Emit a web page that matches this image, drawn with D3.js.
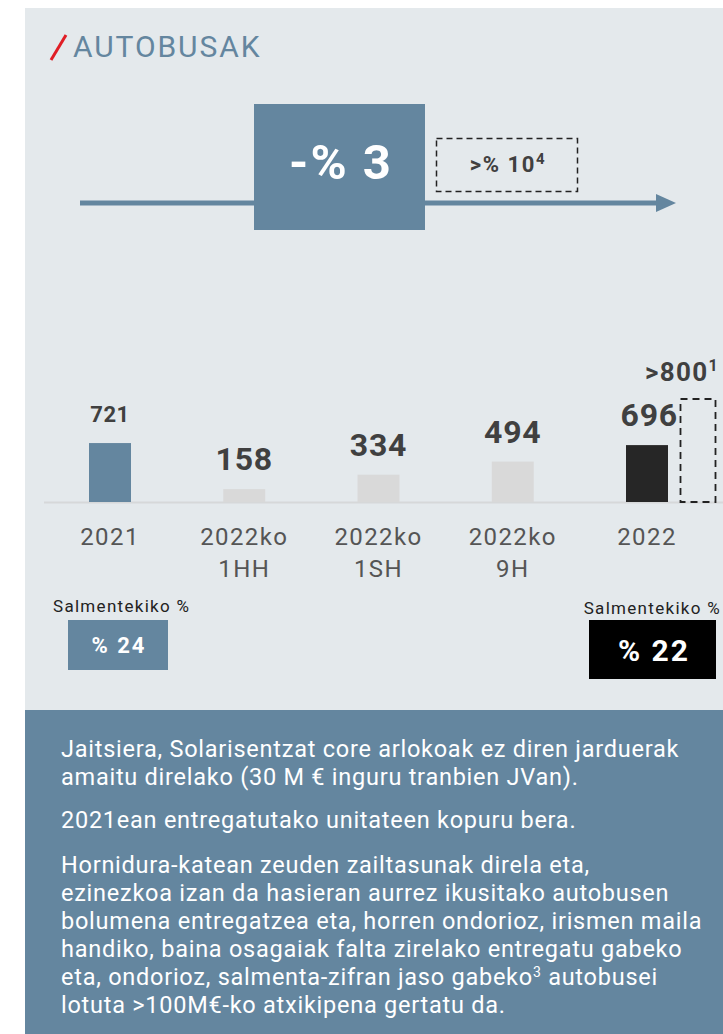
<!DOCTYPE html>
<html><head><meta charset="utf-8">
<script src="https://cdn.jsdelivr.net/npm/d3@7/dist/d3.min.js"></script>
<style>
html,body{margin:0;padding:0;background:#fff;}
svg{display:block;}
text{font-family:Roboto,"Noto Sans",sans-serif;}
</style></head>
<body>
<svg id="c" width="723" height="1034"></svg>
<script>
// ---- data ----
const title = "AUTOBUSAK";
const categories = ["2021", "2022ko 1HH", "2022ko 1SH", "2022ko 9H", "2022"];
const categoryLines = [["2021"], ["2022ko", "1HH"], ["2022ko", "1SH"], ["2022ko", "9H"], ["2022"]];
const values = [721, 158, 334, 494, 696];
const targetValue = 800;
const targetLabel = ">800";
const changeLabel = "-% 3";
const expectedChange = ">% 10";
const expectedSup = "4";
const shareLabel = "Salmentekiko %";
const shareValues = ["% 24", "% 22"];
const notes = [
  ["Jaitsiera, Solarisentzat core arlokoak ez diren jarduerak", "amaitu direlako (30 M € inguru tranbien JVan)."],
  ["2021ean entregatutako unitateen kopuru bera."],
  ["Hornidura-katean zeuden zailtasunak direla eta,", "ezinezkoa izan da hasieran aurrez ikusitako autobusen",
   "bolumena entregatzea eta, horren ondorioz, irismen maila", "handiko, baina osagaiak falta zirelako entregatu gabeko",
   "eta, ondorioz, salmenta-zifran jaso gabeko|3| autobusei", "lotuta >100M€-ko atxikipena gertatu da."]
];

// ---- drawing ----
const blue = "#64869f", panel = "#e4e9ec", dark = "#404040";
const svg = d3.select("#c");

svg.append("rect").attr("x", 25).attr("y", 8).attr("width", 698).attr("height", 702).attr("fill", panel);

// title
svg.append("line").attr("x1", 51).attr("y1", 60).attr("x2", 66).attr("y2", 35)
  .attr("stroke", "#e01e26").attr("stroke-width", 3);
svg.append("text").attr("x", 73).attr("y", 57).attr("font-size", 30).attr("letter-spacing", 1.9)
  .attr("fill", blue).text(title);

// arrow
svg.append("line").attr("x1", 80).attr("y1", 203).attr("x2", 662).attr("y2", 203)
  .attr("stroke", blue).attr("stroke-width", 5);
svg.append("path").attr("d", "M656,194 L676,203 L656,212 Z").attr("fill", blue);

// change box
svg.append("rect").attr("x", 254).attr("y", 104).attr("width", 171).attr("height", 126).attr("fill", blue);
svg.append("text").attr("x", 341).attr("y", 179).attr("text-anchor", "middle").attr("font-size", 49)
  .attr("letter-spacing", 2).attr("font-weight", "bold").attr("fill", "#fff").text(changeLabel);

// expected change dashed box
svg.append("rect").attr("x", 436.5).attr("y", 138.5).attr("width", 141).attr("height", 53)
  .attr("fill", "none").attr("stroke", "#222").attr("stroke-width", 1.5).attr("stroke-dasharray", "6,4");
const ec = svg.append("text").attr("x", 508).attr("y", 172).attr("text-anchor", "middle")
  .attr("font-size", 22).attr("letter-spacing", 1.6).attr("font-weight", "bold").attr("fill", dark);
ec.append("tspan").text(expectedChange);
ec.append("tspan").attr("dy", -8).attr("font-size", 15).text(expectedSup);

// bar chart
const x = d3.scalePoint().domain(categories).range([110, 647]);
const y = d3.scaleLinear().domain([0, 800]).range([502, 436.6]);
const barW = 42;

svg.append("line").attr("x1", 44).attr("x2", 723).attr("y1", 502.5).attr("y2", 502.5)
  .attr("stroke", "#d6d8d9").attr("stroke-width", 2);

const barColors = [blue, "#d9d9d9", "#d9d9d9", "#d9d9d9", "#262626"];
svg.selectAll(".bar").data(values).join("rect")
  .attr("x", (d, i) => x(categories[i]) - barW / 2)
  .attr("y", d => y(d)).attr("width", barW).attr("height", d => y(0) - y(d))
  .attr("fill", (d, i) => barColors[i]);

svg.selectAll(".val").data(values).join("text")
  .attr("x", (d, i) => x(categories[i]))
  .attr("y", (d, i) => y(d) - (i === 0 ? 21 : 19))
  .attr("text-anchor", (d, i) => i === 4 ? "end" : "middle")
  .attr("dx", (d, i) => i === 4 ? 31 : 0)
  .attr("font-size", (d, i) => i === 0 ? 22 : 32)
  .attr("letter-spacing", (d, i) => i === 0 ? 0.5 : 0.8)
  .attr("font-weight", "bold").attr("fill", dark).text(d => d);

// category labels
categoryLines.forEach((lines, i) => {
  const t = svg.append("text").attr("x", x(categories[i])).attr("y", 545).attr("text-anchor", "middle")
    .attr("font-size", 24).attr("letter-spacing", 1.4).attr("fill", "#555");
  lines.forEach((l, j) => t.append("tspan").attr("x", x(categories[i])).attr("dy", j === 0 ? 0 : 32).text(l));
});

// target dashed box
const yT = d3.scaleLinear().domain([0, targetValue]).range([502, 399]);
svg.append("rect").attr("x", x(categories[4]) + 33.5).attr("y", yT(targetValue))
  .attr("width", 35).attr("height", yT(0) - yT(targetValue))
  .attr("fill", "none").attr("stroke", "#222").attr("stroke-width", 1.8).attr("stroke-dasharray", "7,5");
const tt = svg.append("text").attr("x", 645).attr("y", 381).attr("font-size", 26).attr("letter-spacing", 1.3)
  .attr("font-weight", "bold").attr("fill", dark);
tt.append("tspan").text(targetLabel);
tt.append("tspan").attr("dy", -10).attr("font-size", 16).text("1");

// share boxes
svg.append("text").attr("x", 53).attr("y", 612).attr("font-size", 17).attr("letter-spacing", 1.3)
  .attr("fill", "#222").text(shareLabel);
svg.append("rect").attr("x", 68).attr("y", 620).attr("width", 100).attr("height", 50).attr("fill", blue);
svg.append("text").attr("x", 119).attr("y", 653).attr("text-anchor", "middle").attr("font-size", 22)
  .attr("letter-spacing", 2).attr("font-weight", "bold").attr("fill", "#fff").text(shareValues[0]);

svg.append("text").attr("x", 721).attr("y", 614).attr("text-anchor", "end").attr("font-size", 17)
  .attr("letter-spacing", 1.3).attr("fill", "#222").text(shareLabel);
svg.append("rect").attr("x", 589).attr("y", 620).attr("width", 127).attr("height", 59).attr("fill", "#000");
svg.append("text").attr("x", 654).attr("y", 661).attr("text-anchor", "middle").attr("font-size", 30)
  .attr("letter-spacing", 2).attr("font-weight", "bold").attr("fill", "#fff").text(shareValues[1]);

// notes panel
svg.append("rect").attr("x", 25).attr("y", 710).attr("width", 698).attr("height", 324).attr("fill", blue);
const paraStarts = [757, 828, 873];
notes.forEach((para, p) => {
  para.forEach((line, j) => {
    const t = svg.append("text").attr("x", 61).attr("y", paraStarts[p] + j * 28)
      .attr("font-size", 23.5).attr("letter-spacing", 0.75).attr("fill", "#fff");
    line.split("|").forEach((seg, k) => {
      if (k % 2 === 1) t.append("tspan").attr("dy", -8).attr("font-size", 14).text(seg);
      else t.append("tspan").attr("dy", k === 0 ? 0 : 8).text(seg);
    });
  });
});
</script>
</body></html>
